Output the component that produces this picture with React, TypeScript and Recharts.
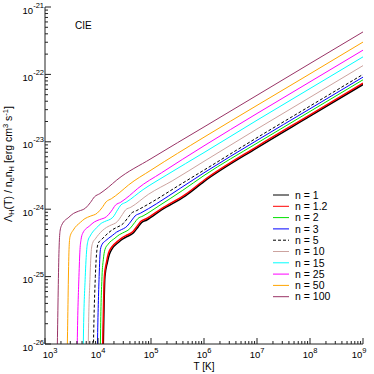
import React from 'react';
import { LineChart, Line, XAxis, YAxis } from 'recharts';

const seriesNames = ['n = 1', 'n = 1.2', 'n = 2', 'n = 3', 'n = 5', 'n = 10', 'n = 15', 'n = 25', 'n = 50', 'n = 100'];
const seriesColors = ['#000000', '#ff0000', '#00e000', '#0000ff', '#000000', '#cca39f', '#00ffff', '#ff00ff', '#ffa500', '#993366'];

// temperatures [K] and cooling rates [erg cm^3 s^-1], one pair per n
const T_1 = [1.23e4, 1.26e4, 1.35e4, 1.50e4, 1.64e4, 1.84e4, 2.45e4, 2.95e4, 3.39e4, 4.68e4, 5.75e4, 6.61e4, 8.32e4, 1.58e5, 4.47e5, 1e6, 1e7, 1e8, 1e9];
const L_1 = [3.16e-27, 1e-26, 1e-25, 1.62e-25, 2.14e-25, 2.57e-25, 3.24e-25, 3.63e-25, 3.85e-25, 4.47e-25, 5.50e-25, 6.31e-25, 6.92e-25, 9.77e-25, 1.58e-24, 2.57e-24, 8.13e-24, 2.40e-23, 7.08e-23];
const T_1_2 = [1.20e4, 1.23e4, 1.32e4, 1.45e4, 1.58e4, 1.78e4, 2.40e4, 2.88e4, 3.31e4, 4.57e4, 5.62e4, 6.46e4, 8.13e4, 1.58e5, 4.47e5, 1e6, 1e7, 1e8, 1e9];
const L_1_2 = [3.16e-27, 1e-26, 1e-25, 1.66e-25, 2.24e-25, 2.69e-25, 3.39e-25, 3.80e-25, 4.03e-25, 4.68e-25, 5.75e-25, 6.61e-25, 7.24e-25, 1.02e-24, 1.66e-24, 2.69e-24, 8.51e-24, 2.51e-23, 7.41e-23];
const T_2 = [1.10e4, 1.11e4, 1.19e4, 1.26e4, 1.35e4, 1.55e4, 2.09e4, 2.51e4, 2.88e4, 3.98e4, 4.90e4, 5.62e4, 7.08e4, 1.41e5, 3.98e5, 1e6, 1e7, 1e8, 1e9];
const L_2 = [3.16e-27, 1e-26, 1e-25, 1.78e-25, 2.51e-25, 3.02e-25, 3.72e-25, 4.17e-25, 4.42e-25, 5.13e-25, 6.31e-25, 7.24e-25, 7.94e-25, 1.12e-24, 1.91e-24, 3.16e-24, 9.55e-24, 2.82e-23, 8.32e-23];
const T_3 = [9.55e3, 9.77e3, 1.05e4, 1.11e4, 1.20e4, 1.38e4, 1.86e4, 2.24e4, 2.57e4, 3.55e4, 4.37e4, 5.01e4, 6.31e4, 1.26e5, 3.55e5, 1e6, 1e7, 1e8, 1e9];
const L_3 = [3.16e-27, 1e-26, 1e-25, 2.51e-25, 3.02e-25, 3.39e-25, 4.07e-25, 4.57e-25, 4.84e-25, 5.62e-25, 6.92e-25, 7.94e-25, 8.71e-25, 1.20e-24, 2.04e-24, 3.47e-24, 1.05e-23, 3.09e-23, 9.12e-23];
const T_5 = [8.04e3, 8.22e3, 8.91e3, 9.55e3, 1.02e4, 1.17e4, 1.58e4, 1.91e4, 2.19e4, 3.02e4, 3.72e4, 4.27e4, 5.37e4, 1.12e5, 3.16e5, 1e6, 1e7, 1e8, 1e9];
const L_5 = [3.16e-27, 1e-26, 1e-25, 2.51e-25, 3.16e-25, 3.55e-25, 4.47e-25, 5.01e-25, 5.31e-25, 6.17e-25, 7.59e-25, 8.71e-25, 9.55e-25, 1.32e-24, 2.19e-24, 3.80e-24, 1.15e-23, 3.39e-23, 1e-22];
const T_10 = [6.46e3, 6.56e3, 7.08e3, 7.50e3, 7.94e3, 8.91e3, 1.20e4, 1.45e4, 1.66e4, 2.34e4, 2.88e4, 3.31e4, 4.17e4, 8.91e4, 2.51e5, 1e6, 1e7, 1e8, 1e9];
const L_10 = [3.16e-27, 1e-26, 1e-25, 2.51e-25, 3.16e-25, 3.63e-25, 4.79e-25, 5.37e-25, 5.69e-25, 6.61e-25, 8.32e-25, 9.77e-25, 1.07e-24, 1.66e-24, 2.63e-24, 5.13e-24, 1.55e-23, 4.57e-23, 1.35e-22];
const T_15 = [5.19e3, 5.28e3, 5.75e3, 6.12e3, 6.46e3, 7.08e3, 9.55e3, 1.15e4, 1.32e4, 1.91e4, 2.34e4, 2.69e4, 3.39e4, 7.08e4, 2.00e5, 1e6, 1e7, 1e8, 1e9];
const L_15 = [3.16e-27, 1e-26, 1e-25, 2.51e-25, 3.39e-25, 3.98e-25, 5.37e-25, 6.17e-25, 6.53e-25, 7.59e-25, 9.77e-25, 1.15e-24, 1.27e-24, 1.95e-24, 3.24e-24, 6.92e-24, 2.09e-23, 6.17e-23, 1.82e-22];
const T_25 = [3.98e3, 4.06e3, 4.37e3, 4.57e3, 4.79e3, 5.13e3, 7.00e3, 8.51e3, 1.07e4, 1.45e4, 1.78e4, 2.14e4, 2.69e4, 3.89e4, 5.62e4, 1.58e5, 1e6, 1e7, 1e8, 1e9];
const L_25 = [3.16e-27, 1e-26, 1e-25, 2.51e-25, 3.55e-25, 4.37e-25, 5.69e-25, 6.46e-25, 7.00e-25, 7.76e-25, 9.33e-25, 1.15e-24, 1.27e-24, 1.58e-24, 2.03e-24, 3.47e-24, 8.71e-24, 2.63e-23, 7.76e-23, 2.29e-22];
const T_50 = [2.57e3, 2.64e3, 2.84e3, 2.96e3, 3.42e3, 4.67e3, 5.68e3, 7.14e3, 9.64e3, 1.19e4, 1.43e4, 1.79e4, 2.59e4, 3.75e4, 1e5, 1e6, 1e7, 1e8, 1e9];
const L_50 = [3.16e-27, 1e-26, 2.51e-25, 3.89e-25, 4.91e-25, 6.40e-25, 7.26e-25, 7.87e-25, 8.73e-25, 1.05e-24, 1.29e-24, 1.43e-24, 1.78e-24, 2.28e-24, 3.80e-24, 1.17e-23, 3.47e-23, 1.02e-22, 3.02e-22];
const T_100 = [1.67e3, 1.71e3, 1.84e3, 1.92e3, 2.07e3, 2.82e3, 3.43e3, 4.32e3, 5.82e3, 7.16e3, 8.61e3, 1.08e4, 1.57e4, 2.26e4, 1e5, 1e6, 1e7, 1e8, 1e9];
const L_100 = [3.16e-27, 1e-26, 2.51e-25, 4.68e-25, 5.83e-25, 7.60e-25, 8.63e-25, 9.35e-25, 1.04e-24, 1.25e-24, 1.53e-24, 1.70e-24, 2.12e-24, 2.71e-24, 5.62e-24, 1.66e-23, 4.90e-23, 1.45e-22, 4.27e-22];

const xMajor = [1e3, 1e4, 1e5, 1e6, 1e7, 1e8, 1e9];
const yMajor = [1e-26, 1e-25, 1e-24, 1e-23, 1e-22, 1e-21];

const withMinors = (majors: number[]) => [
  ...majors.slice(0, -1).flatMap((d) => [1, 2, 3, 4, 5, 6, 7, 8, 9].map((m) => m * d)),
  majors[majors.length - 1],
];
const xTicks = withMinors(xMajor);
const yTicks = withMinors(yMajor);

const temps = [T_1, T_1_2, T_2, T_3, T_5, T_10, T_15, T_25, T_50, T_100];
const rates = [L_1, L_1_2, L_2, L_3, L_5, L_10, L_15, L_25, L_50, L_100];

const series = seriesNames.map((name, i) => ({
  name,
  color: seriesColors[i],
  width: i < 2 ? 1.5 : 1,
  dash: name === 'n = 5' ? '3 2' : undefined,
  data: temps[i].map((t, j) => ({ x: t, y: rates[i][j] })),
}));

const FONT = '"Liberation Sans", Arial, sans-serif';

const expOf = (v: number) => Math.round(Math.log10(v));
const isMajor = (v: number) => Math.abs(Math.log10(v) - expOf(v)) < 1e-6;

const BottomTick = ({ x, y, payload }: any) => {
  const v = payload.value;
  const major = isMajor(v);
  let lx = x;
  if (v === xMajor[0]) lx += 5;
  if (v === xMajor[xMajor.length - 1]) lx -= 4;
  return (
    <g>
      <line x1={x} x2={x} y1={y} y2={y - (major ? 6 : 3)} stroke="#222" />
      {major && (
        <text x={lx} y={y + 13.7} textAnchor="middle" fontSize={9.5} fontFamily={FONT} fill="#000">
          10<tspan dy={-5} fontSize={7.5}>{expOf(v)}</tspan>
        </text>
      )}
    </g>
  );
};

const TopTick = ({ x, y, payload }: any) => (
  <line x1={x} x2={x} y1={y} y2={y + (isMajor(payload.value) ? 6 : 3)} stroke="#222" />
);

const LeftTick = ({ x, y, payload }: any) => {
  const v = payload.value;
  const major = isMajor(v);
  return (
    <g>
      <line x1={x} x2={x + (major ? 6 : 3)} y1={y} y2={y} stroke="#222" />
      {major && (
        <text x={x - 1} y={y + 6.5} textAnchor="end" fontSize={9.5} fontFamily={FONT} fill="#000">
          10<tspan dy={-6} fontSize={7.5}>{expOf(v)}</tspan>
        </text>
      )}
    </g>
  );
};

const RightTick = ({ x, y, payload }: any) => (
  <line x1={x} x2={x - (isMajor(payload.value) ? 6 : 3)} y1={y} y2={y} stroke="#222" />
);

export default function App() {
  return (
    <div style={{ position: 'absolute', left: 0, top: 0, width: 374, height: 374, background: '#fff' }}>
      <LineChart width={374} height={374} margin={{ top: 7, right: 11, bottom: 0, left: 0 }}>
        <XAxis
          xAxisId="b"
          dataKey="x"
          type="number"
          scale="log"
          domain={[1e3, 1e9]}
          allowDataOverflow
          ticks={xTicks}
          interval={0}
          tick={<BottomTick />}
          tickLine={false}
          tickSize={0}
          tickMargin={0}
          height={30}
          axisLine={{ stroke: '#222' }}
        />
        <XAxis
          xAxisId="t"
          orientation="top"
          type="number"
          scale="log"
          domain={[1e3, 1e9]}
          allowDataOverflow
          ticks={xTicks}
          interval={0}
          tick={<TopTick />}
          tickLine={false}
          tickSize={0}
          tickMargin={0}
          height={0}
          axisLine={{ stroke: '#222' }}
        />
        <YAxis
          yAxisId="l"
          type="number"
          scale="log"
          domain={[1e-26, 1e-21]}
          allowDataOverflow
          ticks={yTicks}
          interval={0}
          tick={<LeftTick />}
          tickLine={false}
          tickSize={0}
          tickMargin={0}
          width={45}
          axisLine={{ stroke: '#222' }}
        />
        <YAxis
          yAxisId="r"
          orientation="right"
          type="number"
          scale="log"
          domain={[1e-26, 1e-21]}
          allowDataOverflow
          ticks={yTicks}
          interval={0}
          tick={<RightTick />}
          tickLine={false}
          tickSize={0}
          tickMargin={0}
          width={0}
          axisLine={{ stroke: '#222' }}
        />
        {series.map((s) => (
          <Line
            key={s.name}
            xAxisId="b"
            yAxisId="l"
            data={s.data}
            dataKey="y"
            name={s.name}
            type="monotone"
            stroke={s.color}
            strokeWidth={s.width}
            strokeDasharray={s.dash}
            dot={false}
            activeDot={false}
            isAnimationActive={false}
          />
        ))}
      </LineChart>
      <svg
        width={374}
        height={374}
        style={{ position: 'absolute', left: 0, top: 0, pointerEvents: 'none' }}
        fontFamily={FONT}
      >
        <text x={75} y={29} fontSize={10}>CIE</text>
        <text x={204} y={369.5} fontSize={10} textAnchor="middle">T [K]</text>
        <text transform="rotate(-90)" x={-164} y={11.5} fontSize={10.5} textAnchor="middle" style={{ whiteSpace: 'pre' }}>
          Λ<tspan fontSize={7.5} dy={2.5}>H</tspan>
          <tspan dy={-2.5}>(T) / n</tspan>
          <tspan fontSize={7.5} dy={2.5}>e</tspan>
          <tspan dy={-2.5}>n</tspan>
          <tspan fontSize={7.5} dy={2.5}>H</tspan>
          <tspan dy={-2.5}> [erg cm</tspan>
          <tspan fontSize={7.5} dy={-4}>3</tspan>
          <tspan dy={4}> s</tspan>
          <tspan fontSize={7.5} dy={-4}>-1</tspan>
          <tspan dy={4}>]</tspan>
        </text>
        {series.map((s, i) => {
          const ly = 195 + i * 11.3;
          return (
            <g key={s.name}>
              <line x1={273} x2={289} y1={ly} y2={ly} stroke={s.color} strokeWidth={1} strokeDasharray={s.dash} />
              <text x={295} y={ly + 3.7} fontSize={10.5}>{s.name}</text>
            </g>
          );
        })}
      </svg>
    </div>
  );
}
